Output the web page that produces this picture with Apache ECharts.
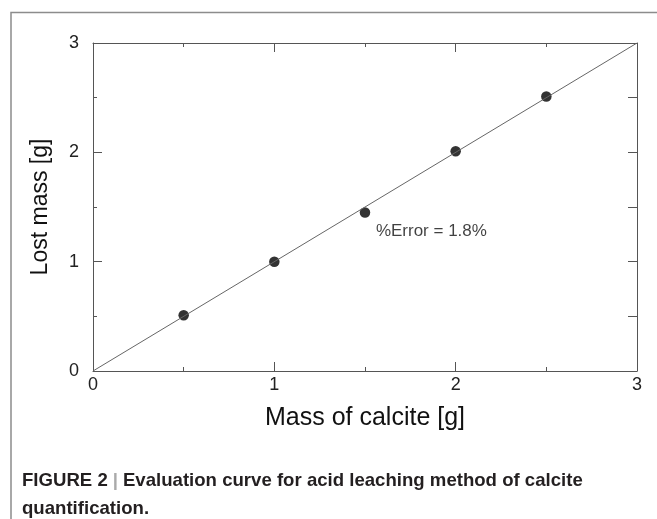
<!DOCTYPE html>
<html>
<head>
<meta charset="utf-8">
<script src="https://cdn.jsdelivr.net/npm/echarts@6/dist/echarts.min.js"></script>
<style>
  html, body { margin: 0; padding: 0; background: #fff; }
  #chart { width: 657px; height: 519px; }
</style>
</head>
<body>
<div id="chart"></div>
<script>
// measured points
const calciteMass = [0.5, 1.0, 1.5, 2.0, 2.5];
const lostMass = [0.51, 1.0, 1.45, 2.01, 2.51];
// 1:1 reference line
const refX = [0, 3];
const refY = [0, 3];
// annotation anchor
const noteX = [1.56];
const noteY = [1.28];
const noteText = '%Error = 1.8%';

const font = 'Liberation Sans, Arial, sans-serif';
const axisColor = '#555';

const chart = echarts.init(document.getElementById('chart'));

const frameAxis = (pos, interval, len, minor) => ({
  type: 'value',
  position: pos,
  min: 0,
  max: 3,
  interval: interval,
  axisLine: { show: true, onZero: false, lineStyle: { color: axisColor, width: 1 } },
  axisTick: { show: true, inside: true, length: len, lineStyle: { color: axisColor } },
  minorTick: { show: minor, splitNumber: 2, length: 4, lineStyle: { color: axisColor } },
  axisLabel: { show: false },
  splitLine: { show: false }
});

const option = {
  animation: false,
  backgroundColor: '#fff',
  title: {
    left: 17,
    top: 462,
    text: '{b|FIGURE 2} {sep||} {b|Evaluation curve for acid leaching method of calcite}\n{b|quantification}{n|.}',
    textStyle: {
      rich: {
        b: { fontFamily: font, fontWeight: 'bold', fontSize: 18.6, color: '#231f20', lineHeight: 28 },
        n: { fontFamily: font, fontSize: 18.6, color: '#231f20', lineHeight: 28 },
        sep: { fontFamily: font, fontSize: 18.6, color: '#aaa', lineHeight: 28 }
      }
    }
  },
  graphic: [
    { type: 'polyline', shape: { points: [[11, 519], [11, 12.5], [657, 12.5]] },
      style: { stroke: '#8c8c8c', lineWidth: 1.5, fill: null } }
  ],
  grid: { left: 93, top: 43, right: 20, bottom: 148 },
  xAxis: [
    {
      type: 'value',
      min: 0,
      max: 3,
      interval: 1,
      name: 'Mass of calcite [g]',
      nameLocation: 'middle',
      nameGap: 35,
      nameTextStyle: { fontFamily: font, fontSize: 25, color: '#111' },
      axisLine: { show: true, onZero: false, lineStyle: { color: axisColor, width: 1 } },
      axisTick: { show: true, inside: true, length: 9, lineStyle: { color: axisColor } },
      minorTick: { show: true, splitNumber: 2, length: 4, lineStyle: { color: axisColor } },
      axisLabel: { fontFamily: font, fontSize: 18, color: '#222', margin: 5 },
      splitLine: { show: false }
    },
    frameAxis('top', 1, 9, true)
  ],
  yAxis: [
    {
      type: 'value',
      min: 0,
      max: 3,
      interval: 1,
      name: 'Lost mass [g]',
      nameLocation: 'middle',
      nameGap: 41,
      nameTextStyle: { fontFamily: font, fontSize: 23, color: '#111' },
      axisLine: { show: true, onZero: false, lineStyle: { color: axisColor, width: 1 } },
      axisTick: { show: true, inside: true, length: 9, lineStyle: { color: axisColor } },
      minorTick: { show: true, splitNumber: 2, length: 4, lineStyle: { color: axisColor } },
      axisLabel: { fontFamily: font, fontSize: 18, color: '#222', margin: 14 },
      splitLine: { show: false }
    },
    frameAxis('right', 0.5, 9, false)
  ],
  series: [
    {
      type: 'line',
      data: refX.map((x, i) => [x, refY[i]]),
      symbol: 'none',
      lineStyle: { color: '#666', width: 1 },
      silent: true
    },
    {
      type: 'scatter',
      data: calciteMass.map((x, i) => [x, lostMass[i]]),
      symbol: 'circle',
      symbolSize: 10.5,
      itemStyle: { color: '#000' }
    },
    {
      type: 'scatter',
      data: noteX.map((x, i) => [x, noteY[i]]),
      symbolSize: 0,
      silent: true,
      label: {
        show: true,
        position: 'inside',
        align: 'left',
        verticalAlign: 'middle',
        formatter: noteText,
        fontFamily: font,
        fontSize: 17,
        color: '#111'
      }
    }
  ]
};

chart.setOption(option);
</script>
</body>
</html>
